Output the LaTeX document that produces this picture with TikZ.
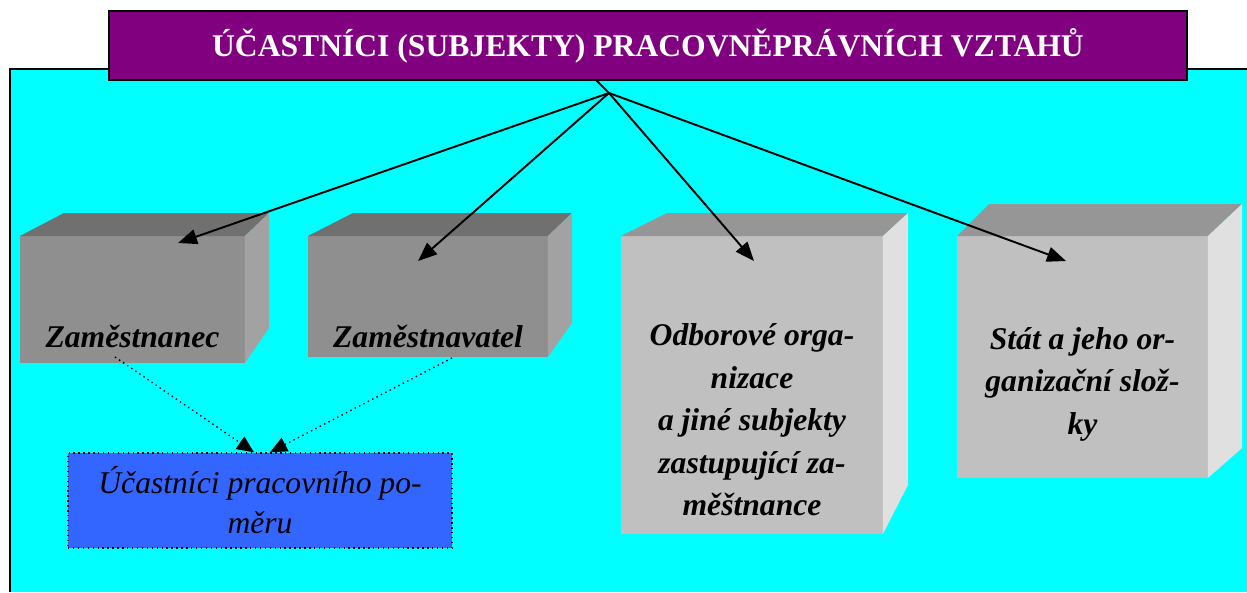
\documentclass[tikz,border=0pt]{standalone}
\usepackage{fontspec}
\setmainfont{Liberation Serif}
\usetikzlibrary{arrows.meta,calc}

\definecolor{azur}{RGB}{0,255,255}
\definecolor{lila}{RGB}{128,0,128}
\definecolor{modra}{RGB}{51,102,255}
\definecolor{darkfront}{RGB}{143,143,143}
\definecolor{darktop}{RGB}{112,112,112}
\definecolor{darkside}{RGB}{162,162,162}
\definecolor{lightfront}{RGB}{192,192,192}
\definecolor{lighttop}{RGB}{150,150,150}
\definecolor{lightside}{RGB}{224,224,224}

\tikzset{
  face/.style={inner sep=0pt,outer sep=0pt,anchor=north west},
  boxtext/.style={font=\fontsize{18}{24.2}\selectfont\bfseries\itshape,align=center,inner sep=0pt},
  pointer/.style={line width=1.1pt,-{Triangle[length=0.38cm,width=0.3cm]}},
  dotpointer/.style={line width=0.8pt,dotted,-{Triangle[length=0.34cm,width=0.3cm]}}
}

\begin{document}
\begin{tikzpicture}[x=0.02cm,y=-0.02cm]
            \useasboundingbox (0,0) rectangle (1247,592);
            \fill[white] (0,0) rectangle (1247,592);
            \fill[azur] (10,69) rectangle (1247,592);
            \draw[line width=1.2pt] (10,592) -- (10,69) -- (1247,69);

            % title
            \node[fill=lila,draw=black,line width=1.2pt,minimum width=21.56cm,minimum height=1.38cm,
              text=white,font=\fontsize{18}{22}\selectfont\bfseries] (titul) at (648,45.5)
              {ÚČASTNÍCI (SUBJEKTY) PRACOVNĚPRÁVNÍCH VZTAHŮ};

            % boxes
            \node[face,fill=darkfront,minimum width=4.5cm,minimum height=2.54cm] (zamc) at (20,236) {};
            \fill[darktop] (zamc.north west) -- (64,213) -- (269,213) -- (zamc.north east) -- cycle;
            \fill[darkside] (zamc.north east) -- (269,213) -- (269,328) -- (zamc.south east) -- cycle;

            \node[face,fill=darkfront,minimum width=4.8cm,minimum height=2.42cm] (zamt) at (308,236) {};
            \fill[darktop] (zamt.north west) -- (353,213) -- (572,213) -- (zamt.north east) -- cycle;
            \fill[darkside] (zamt.north east) -- (572,213) -- (572,323) -- (zamt.south east) -- cycle;

            \node[face,fill=lightfront,minimum width=5.24cm,minimum height=5.96cm] (odbor) at (621,236) {};
            \fill[lighttop] (odbor.north west) -- (667,213) -- (908,213) -- (odbor.north east) -- cycle;
            \fill[lightside] (odbor.north east) -- (908,213) -- (908,485) -- (odbor.south east) -- cycle;

            \node[face,fill=lightfront,minimum width=5.02cm,minimum height=4.84cm] (stat) at (957,236) {};
            \fill[lighttop] (stat.north west) -- (989,204) -- (1242,204) -- (stat.north east) -- cycle;
            \fill[lightside] (stat.north east) -- (1242,204) -- (1242,448) -- (stat.south east) -- cycle;

            % labels
            \node[boxtext,anchor=base] (zamc-l) at (132.5,347) {Zaměstnanec};
            \node[boxtext,anchor=base] (zamt-l) at (428,347) {Zaměstnavatel};
            \node[boxtext] (odbor-l) at (752,420) {Odborové orga-\\nizace\\a jiné subjekty\\zastupující za-\\měštnance};
            \node[boxtext] (stat-l) at (1082.5,384) {Stát a jeho or-\\ganizační slož-\\ky};

            \node[fill=modra,draw=black,dotted,line width=0.8pt,minimum width=7.68cm,minimum height=1.9cm,
              align=center,font=\fontsize{18}{22.8}\selectfont\itshape] (ucast) at (260,500.5)
              {Účastníci pracovního po-\\měru};

            % connectors
            \coordinate (stem) at (596,80);
            \coordinate (hub) at (609,93);
            \coordinate (t1) at (178,243);
            \coordinate (t2) at (418,261);
            \coordinate (t3) at (754,261);
            \coordinate (t4) at (1066,261);
            \draw[line width=1.1pt] (stem) -- (hub);
            \foreach \t in {t1,t2,t3,t4}
              \draw[pointer] (hub) -- (\t);

            \coordinate (d1) at (115,357);
            \coordinate (d2) at (452,358);
            \draw[dotpointer] (d1) -- ($(ucast.north)+(-6,0)$);
            \draw[dotpointer] (d2) -- ($(ucast.north)+(10,0)$);
\end{tikzpicture}
\end{document}
